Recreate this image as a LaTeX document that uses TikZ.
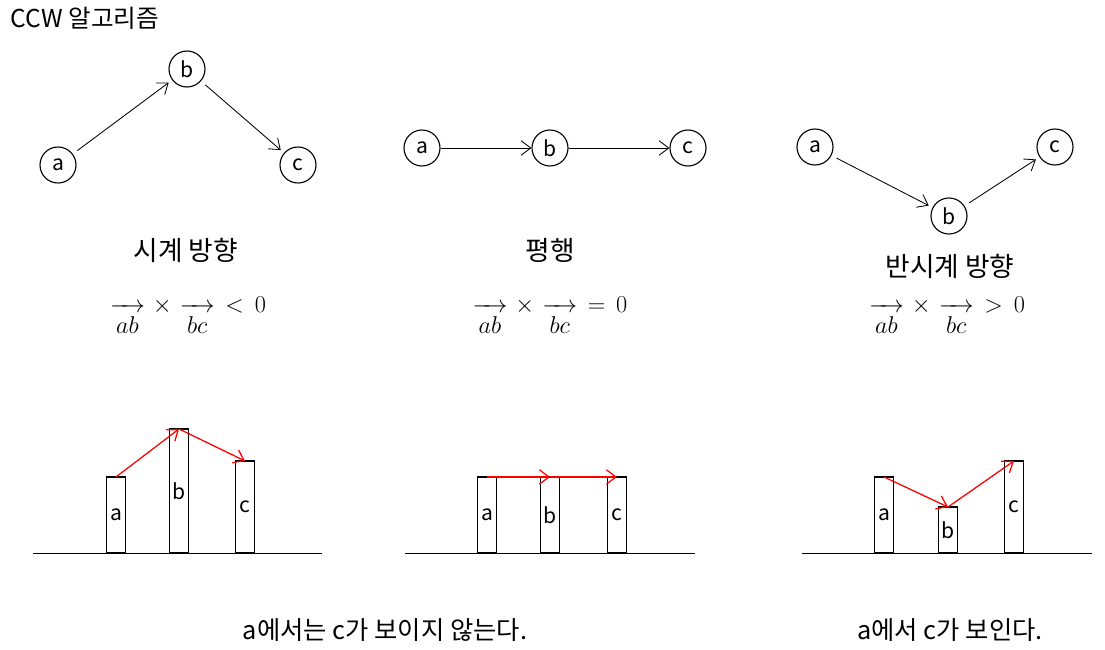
\documentclass[tikz,border=0pt]{standalone}
\usepackage{amsmath}
\usepackage[no-math]{fontspec}
\setmainfont{Noto Sans CJK KR}
\usepackage{tikz}
\usetikzlibrary{arrows.meta, positioning}

\newcommand{\segvec}[1]{\mathop{\hbox to 1.3em{\rightarrowfill}}\limits_{\textstyle #1}}

\begin{document}
\begin{tikzpicture}[
    x=0.025cm, y=0.025cm,
    font=\fontsize{15}{18}\selectfont,
    point/.style={circle, draw, line width=0.8pt, minimum size=0.9cm, inner sep=0pt},
    arrow/.style={line width=0.6pt, -{Straight Barb[length=2.4mm, width=3.6mm]}},
    redarrow/.style={red, line width=0.9pt, -{Straight Barb[length=2.4mm, width=3.6mm]}},
    bar/.style={rectangle, draw, line width=1pt, minimum width=0.48cm, inner sep=0pt, outer sep=0pt, anchor=south},
    ground/.style={line width=0.7pt},
    caption/.style={font=\fontsize{19}{22}\selectfont},
    result/.style={font=\fontsize{18}{21}\selectfont},
    formula/.style={font=\fontsize{19}{22}\selectfont}
]
\useasboundingbox (0,0) rectangle (1105,-650);

\node[anchor=west, font=\fontsize{17.5}{20}\selectfont] (title) at (6,-18) {CCW 알고리즘};

% clockwise
\node[point] (a1) at (58,-165) {a};
\node[point] (b1) at (187,-69) {b};
\node[point] (c1) at (298,-165) {c};
\draw[arrow, shorten <=4pt, shorten >=3pt] (a1) -- (b1);
\draw[arrow, shorten <=4pt, shorten >=3pt] (b1) -- (c1);
\node[caption] (lbl1) at (186,-250) {시계 방향};
\node[formula] (f1) at (188,-316) {$\segvec{ab}\,\times\,\segvec{bc}\,<\,0$};

% parallel
\node[point] (a2) at (422,-148) {a};
\node[point] (b2) at (550,-148) {b};
\node[point] (c2) at (688,-148) {c};
\draw[arrow] (a2) -- (b2);
\draw[arrow] (b2) -- (c2);
\node[caption] (lbl2) at (550,-250) {평행};
\node[formula] (f2) at (550,-316) {$\segvec{ab}\,\times\,\segvec{bc}\,=\,0$};

% counter-clockwise
\node[point] (a3) at (815,-147) {a};
\node[point] (b3) at (949,-216) {b};
\node[point] (c3) at (1055,-147) {c};
\draw[arrow, shorten <=4pt, shorten >=3pt] (a3) -- (b3);
\draw[arrow, shorten <=4pt, shorten >=3pt] (b3) -- (c3);
\node[caption] (lbl3) at (950,-266) {반시계 방향};
\node[formula] (f3) at (947,-316) {$\segvec{ab}\,\times\,\segvec{bc}\,>\,0$};

% bars
\coordinate (g1l) at (33,-553);
\coordinate (g1r) at (322,-553);
\coordinate (g2l) at (405,-553);
\coordinate (g2r) at (695,-553);
\coordinate (g3l) at (802,-553);
\coordinate (g3r) at (1092,-553);
\draw[ground] (g1l) -- (g1r);
\draw[ground] (g2l) -- (g2r);
\draw[ground] (g3l) -- (g3r);

\node[bar, minimum height=1.9cm] (ba1) at (116,-553) {a};
\node[bar, minimum height=3.1cm] (bb1) at (179,-553) {b};
\node[bar, minimum height=2.3cm] (bc1) at (245,-553) {c};
\draw[redarrow] (ba1.north) -- (bb1.north);
\draw[redarrow] (bb1.north) -- (bc1.north);

\node[bar, minimum height=1.9cm] (ba2) at (487,-553) {a};
\node[bar, minimum height=1.9cm] (bb2) at (550,-553) {b};
\node[bar, minimum height=1.9cm] (bc2) at (617,-553) {c};
\draw[redarrow] (ba2.north) -- (bb2.north);
\draw[redarrow] (bb2.north) -- (bc2.north);

\node[bar, minimum height=1.9cm] (ba3) at (884,-553) {a};
\node[bar, minimum height=1.15cm] (bb3) at (948,-553) {b};
\node[bar, minimum height=2.3cm] (bc3) at (1014,-553) {c};
\draw[redarrow] (ba3.north) -- (bb3.north);
\draw[redarrow] (bb3.north) -- (bc3.north);

\node[result] (res1) at (385,-630) {a에서는 c가 보이지 않는다.};
\node[result] (res2) at (950,-630) {a에서 c가 보인다.};
\end{tikzpicture}
\end{document}
